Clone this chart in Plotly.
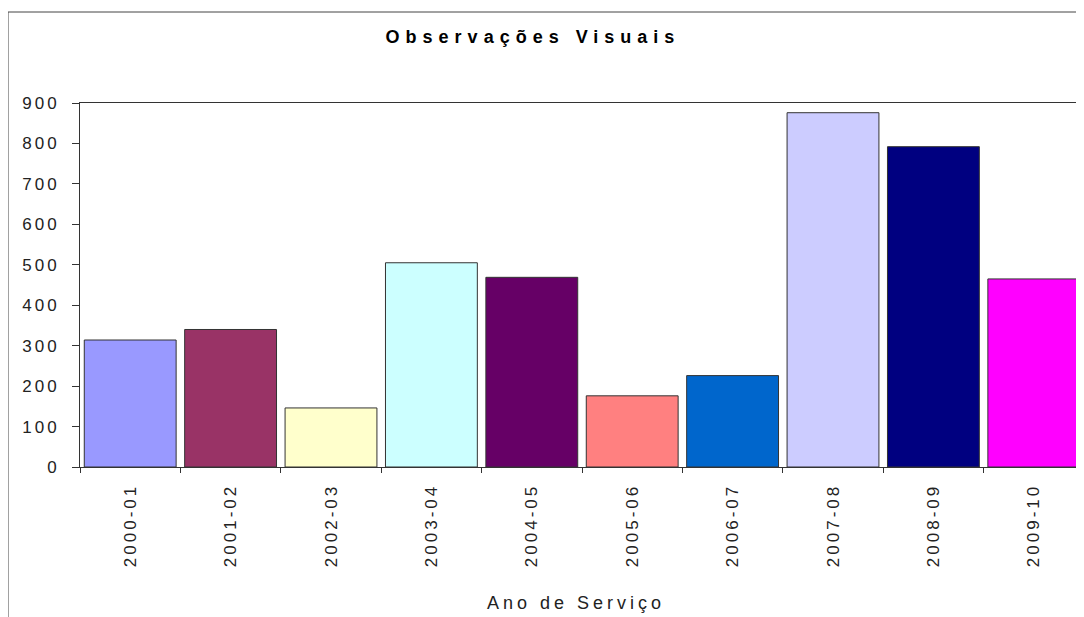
import plotly.graph_objects as go

categories = ["2000-01", "2001-02", "2002-03", "2003-04", "2004-05",
              "2005-06", "2006-07", "2007-08", "2008-09", "2009-10"]
values = [314, 340, 146, 505, 469, 176, 226, 876, 792, 465]
bar_colors = ["#9999FF", "#993366", "#FFFFCC", "#CCFFFF", "#660066",
              "#FF8080", "#0066CC", "#CCCCFF", "#000080", "#FF00FF"]
y_ticks = [0, 100, 200, 300, 400, 500, 600, 700, 800, 900]

def spaced(t, px=3):
    return f'<span style="letter-spacing:{px}px">{t}</span>'

W, H = 1076, 609          # page body has an 8px margin
L, T, B = 72, 95, 150
PW, PH = W - L, H - T - B

fig = go.Figure(go.Bar(
    x=categories, y=values, width=0.915,
    marker=dict(color=bar_colors, line=dict(color="#333333", width=1)),
))

FONT = "Liberation Sans, Arial, sans-serif"
fig.update_layout(
    width=W, height=H,
    margin=dict(l=L, r=0, t=T, b=B),
    paper_bgcolor="white", plot_bgcolor="white",
    showlegend=False,
    font=dict(family=FONT, size=17, color="#222222"),
    title=dict(text=spaced("<b>Observações Visuais</b>", 6),
               x=525/W, xanchor="center", xref="container",
               y=1-29/H, yanchor="middle", yref="container",
               font=dict(family=FONT, size=18, color="#000000")),
    xaxis=dict(
        type="category", range=[-0.5, 9.5],
        tickvals=categories, ticktext=[spaced(c) for c in categories],
        tickangle=-90, ticks="outside", ticklen=5, tickcolor="#333333",
        tickson="boundaries", ticklabelstandoff=9,
        showline=True, linecolor="#333333", linewidth=1, mirror=True,
        showgrid=False, zeroline=False,
        tickfont=dict(family=FONT, size=17, color="#222222"),
    ),
    yaxis=dict(
        range=[0, 900], tickvals=y_ticks,
        ticktext=[spaced(str(v)) for v in y_ticks],
        ticks="outside", ticklen=7, tickcolor="#333333",
        ticklabelstandoff=9,
        showline=True, linecolor="#333333", linewidth=1,
        showgrid=False, zeroline=False,
        tickfont=dict(family=FONT, size=17, color="#222222"),
    ),
    annotations=[dict(text=spaced("Ano de Serviço", 4), xref="paper", yref="paper",
                      x=(568 - L) / PW, y=(T + PH - 595) / PH,
                      xanchor="center", yanchor="middle", showarrow=False,
                      font=dict(family=FONT, size=18, color="#222222"))],
    shapes=[dict(type="rect", xref="paper", yref="paper",
                 x0=-L / PW, x1=1.2, y0=-0.6, y1=(T + PH - 4) / PH,
                 line=dict(color="#444444", width=1), fillcolor="rgba(0,0,0,0)",
                 layer="below")],
)

fig.write_html("out.html")
